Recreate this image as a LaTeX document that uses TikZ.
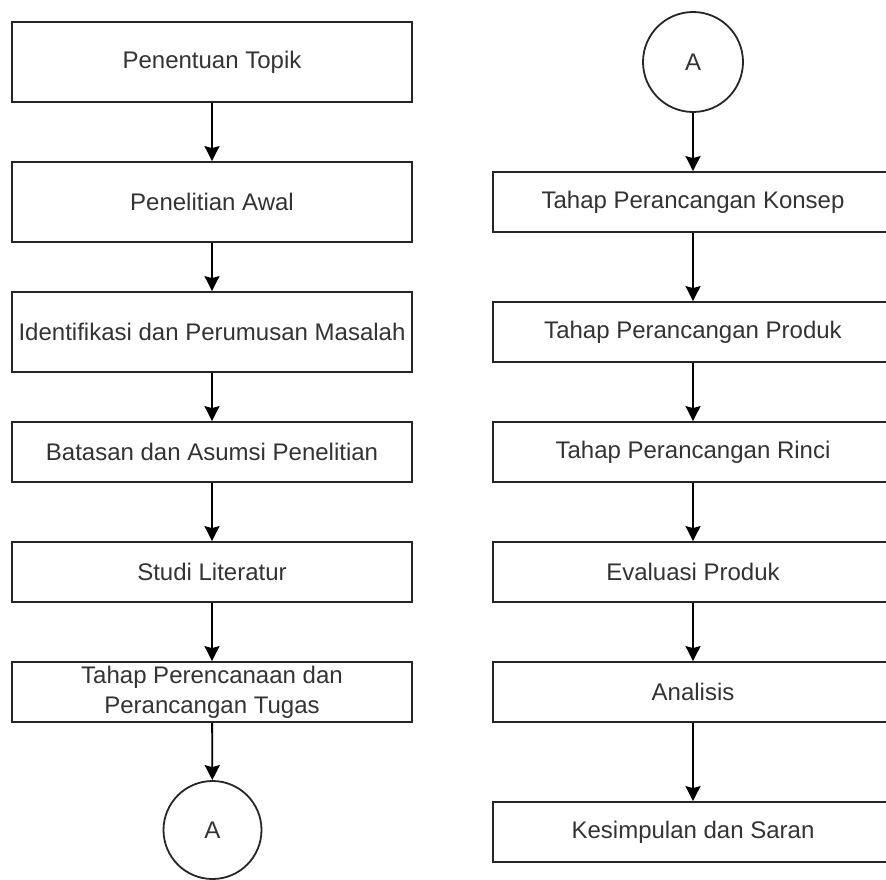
\documentclass[tikz,border=0pt]{standalone}
\usepackage{fontspec}
\setmainfont{Liberation Sans}
\usetikzlibrary{arrows.meta}
\begin{document}
\begin{tikzpicture}[x=1pt,y=-1pt,
  stepbox/.style={draw=black!85, line width=1.8pt, minimum width=400pt, inner sep=2pt,
    align=center, text=black!80, font=\fontsize{24}{30}\selectfont},
  conn/.style={circle, draw=black!85, line width=1.8pt, minimum size=100pt, inner sep=0pt,
    text=black!80, font=\fontsize{24}{30}\selectfont},
  flow/.style={draw=black, line width=1.8pt, -{Stealth[length=15pt,width=15pt,inset=2pt]}}]
\useasboundingbox (0,0) rectangle (886,880);
\clip (0,0) rectangle (886,880);
% left column
\node[stepbox, minimum height=80pt] (b1) at (212,62) {Penentuan Topik};
\node[stepbox, minimum height=80pt] (b2) at (212,202) {Penelitian Awal};
\node[stepbox, minimum height=80pt] (b3) at (212,332) {Identifikasi dan Perumusan Masalah};
\node[stepbox, minimum height=60pt] (b4) at (212,452) {Batasan dan Asumsi Penelitian};
\node[stepbox, minimum height=60pt] (b5) at (212,572) {Studi Literatur};
\node[stepbox, minimum height=60pt] (b6) at (212,692) {Tahap Perencanaan dan\\Perancangan Tugas};
\node[conn, minimum size=98pt] (c1) at (212.5,830) {A};
% right column
\node[conn] (c2) at (693,62) {A};
\node[stepbox, minimum height=60pt] (r1) at (693,202) {Tahap Perancangan Konsep};
\node[stepbox, minimum height=60pt] (r2) at (693,332) {Tahap Perancangan Produk};
\node[stepbox, minimum height=60pt] (r3) at (693,452) {Tahap Perancangan Rinci};
\node[stepbox, minimum height=60pt] (r4) at (693,572) {Evaluasi Produk};
\node[stepbox, minimum height=60pt] (r5) at (693,692) {Analisis};
\node[stepbox, minimum height=60pt] (r6) at (693,832) {Kesimpulan dan Saran};
% connectors
\draw[flow] (b1) -- (b2);
\draw[flow] (b2) -- (b3);
\draw[flow] (b3) -- (b4);
\draw[flow] (b4) -- (b5);
\draw[flow] (b5) -- (b6);
\draw[flow] (b6) -- (c1);
\draw[flow] (c2) -- (r1);
\draw[flow] (r1) -- (r2);
\draw[flow] (r2) -- (r3);
\draw[flow] (r3) -- (r4);
\draw[flow] (r4) -- (r5);
\draw[flow] (r5) -- (r6);
\end{tikzpicture}
\end{document}
